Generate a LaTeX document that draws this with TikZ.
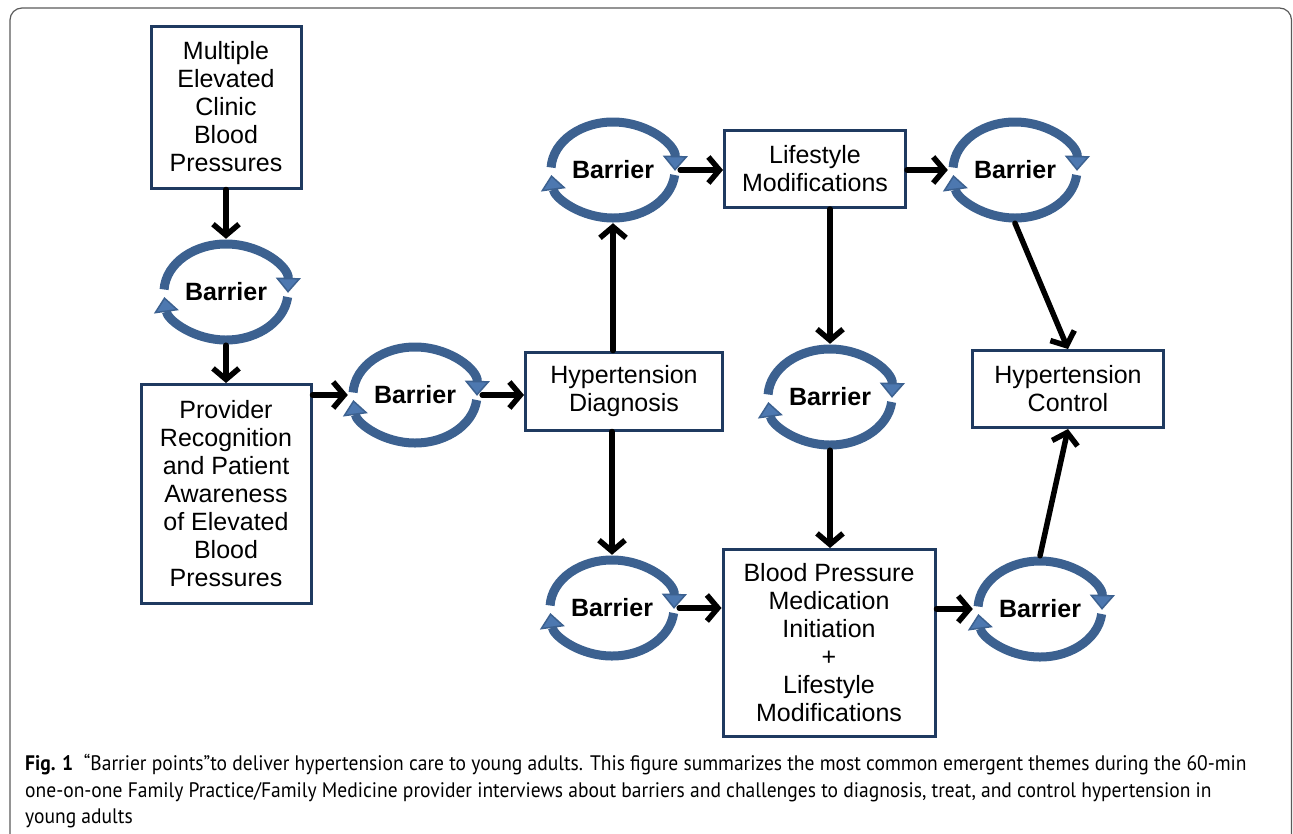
\documentclass[tikz,border=0pt]{standalone}
\usepackage{fontspec}
\setmainfont{Liberation Sans}
\newfontfamily\capfont[FakeStretch=0.93]{PT Sans}
\usetikzlibrary{arrows.meta,calc,shapes.geometric}
\definecolor{bxnavy}{HTML}{1F3A60}
\definecolor{rgblue}{HTML}{3C6190}
\definecolor{rgtip}{HTML}{4D78B0}
\definecolor{frgray}{HTML}{5A5A5A}

\begin{document}
\begin{tikzpicture}[x=1pt, y=-1pt, font=\fontsize{25}{28}\selectfont,
    box/.style={draw=bxnavy, line width=3pt, align=center, inner sep=0pt},
    barrier/.style={ellipse, minimum width=134pt, minimum height=106pt, inner sep=0pt,
      font=\fontsize{25}{28}\selectfont\bfseries},
    ring/.style={draw=rgblue, line width=9pt,
      -{Triangle[length=15pt, width=25pt, line width=1.5pt, fill=rgtip]}},
    flow/.style={draw=black, line width=5.5pt, line cap=round,
      -{Straight Barb[length=11pt, width=26pt]}},
    frame/.style={draw=frgray, line width=1.2pt, rounded corners=12pt},
  ]
  \useasboundingbox (0,0) rectangle (1293,833);

  % outer figure frame, runs off the bottom
  \begin{scope}
    \clip (0,0) rectangle (1293,833);
    \draw[frame] (10,870) -- (10,8) -- (1291.5,8) -- (1291.5,870);
  \end{scope}

  % boxes
  \node[box, minimum width=150pt, minimum height=162pt] (elev) at (226,107)
    {Multiple\\Elevated\\Clinic\\Blood\\Pressures};
  \node[box, minimum width=170pt, minimum height=219pt] (aware) at (226,494)
    {Provider\\Recognition\\and Patient\\Awareness\\of Elevated\\Blood\\Pressures};
  \node[box, minimum width=197pt, minimum height=78pt] (diag) at (624,391)
    {Hypertension\\Diagnosis};
  \node[box, minimum width=181pt, minimum height=77pt] (life) at (815,169)
    {Lifestyle\\Modifications};
  \node[box, minimum width=191pt, minimum height=77pt] (ctrl) at (1068,389)
    {Hypertension\\Control};
  \node[box, minimum width=212pt, minimum height=187pt] (meds) at (829,643)
    {Blood Pressure\\Medication\\Initiation\\+\\Lifestyle\\Modifications};

  % barrier points
  \node[barrier] (b1) at (226,292) {Barrier};
  \node[barrier] (b2) at (415,395) {Barrier};
  \node[barrier] (b3) at (613,170) {Barrier};
  \node[barrier] (b4) at (1015,170) {Barrier};
  \node[barrier] (b5) at (830,397) {Barrier};
  \node[barrier] (b6) at (612,608) {Barrier};
  \node[barrier] (b7) at (1040,609) {Barrier};

  % the two circling arrows round each barrier
  \foreach \b in {b1,b2,b3,b4,b5,b6,b7} {
    \draw[ring] ($(\b)+(177:62pt and 48pt)$) arc[start angle=177, end angle=-1, x radius=62pt, y radius=48pt];
    \draw[ring] ($(\b)+(-6:62pt and 48pt)$) arc[start angle=-6, end angle=-174, x radius=62pt, y radius=48pt];
  }

  % flow between steps
  \draw[flow] (elev.south -| b1) -- (b1.north);
  \draw[flow] (b1.south) -- (aware.north -| b1);
  \draw[flow] (aware.east |- b2) -- (b2.west);
  \draw[flow] (b2.east) -- (diag.west |- b2);
  \draw[flow] (diag.north -| b3) -- (b3.south);
  \draw[flow] (b3.east) -- (life.west |- b3);
  \draw[flow] (life.east |- b4) -- (b4.west);
  \draw[flow] (b4.south) -- (ctrl.north);
  \draw[flow] (life.south -| b5) -- (b5.north);
  \draw[flow] (b5.south) -- (meds.north -| b5);
  \draw[flow] (diag.south -| b6) -- (b6.north);
  \draw[flow] (b6.east) -- (meds.west |- b6);
  \draw[flow] (meds.east |- b7) -- (b7.west);
  \draw[flow] (b7.north) -- (ctrl.south);

  % caption
  \node[anchor=base west, inner sep=0pt, font=\capfont\fontsize{21}{24}\selectfont] (cap1) at (25,770)
    {\textbf{Fig. 1}\enspace “Barrier points”to deliver hypertension care to young adults. This figure summarizes the most common emergent themes during the 60-min};
  \node[anchor=base west, inner sep=0pt, font=\capfont\fontsize{21}{24}\selectfont] (cap2) at (25,797)
    {one-on-one Family Practice/Family Medicine provider interviews about barriers and challenges to diagnosis, treat, and control hypertension in};
  \node[anchor=base west, inner sep=0pt, font=\capfont\fontsize{21}{24}\selectfont] (cap3) at (25,823)
    {young adults};
\end{tikzpicture}
\end{document}
